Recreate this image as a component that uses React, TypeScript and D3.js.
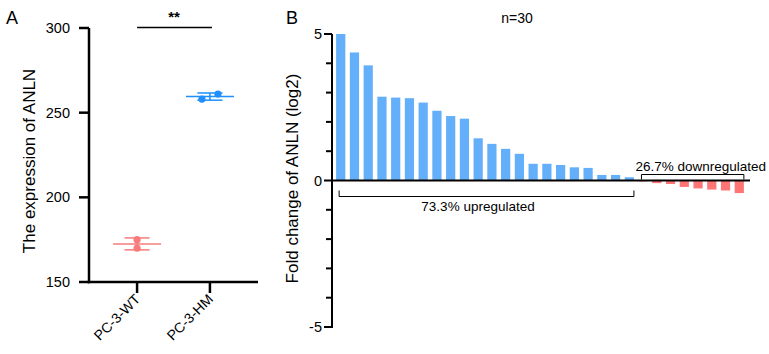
import * as d3 from "d3";

// Panel A: expression per cell line
const groups = ["PC-3-WT", "PC-3-HM"];
const wtValues = [175.0, 170.0];
const hmValues = [258.0, 261.0];
const aTicks = [150, 200, 250, 300];

// Panel B: fold change (log2) per sample, sorted
const foldChanges = [
  5.0, 4.37, 3.93, 2.86, 2.83, 2.81, 2.66, 2.38, 2.2, 2.11, 1.44, 1.25, 1.08, 0.91, 0.57,
  0.57, 0.53, 0.45, 0.43, 0.19, 0.19, 0.11, -0.03, -0.09, -0.12, -0.22, -0.27, -0.31, -0.34,
  -0.43,
];
const bMajorTicks = [-5, 0, 5];
const bMinorTicks = [-4, -3, -2, -1, 1, 2, 3, 4];

const font = "'Liberation Sans', Arial, sans-serif";
const blue = "#1e8ffc";
const pink = "#f77b7b";
const barBlue = "#63affa";
const barRed = "#ff7474";

function meanSd(v: number[]) {
  const m = d3.mean(v) ?? 0;
  const sd = d3.deviation(v) ?? 0;
  return { m, sd };
}

export default function App() {
  const width = 769;
  const height = 354;

  // ---- Panel A scales
  const yA = d3.scaleLinear().domain([150, 300]).range([282, 28]);
  const xA = d3.scalePoint<string>().domain(groups).range([89, 258]).padding(0.66);
  const series = [
    { name: groups[0], values: wtValues, color: pink },
    { name: groups[1], values: hmValues, color: blue },
  ];
  const r = 3.6;

  // ---- Panel B scales
  const yB = d3.scaleLinear().domain([-5, 5]).range([327, 34]);
  const xB = d3
    .scaleBand<number>()
    .domain(d3.range(foldChanges.length))
    .range([332, 748])
    .paddingInner(0.33)
    .paddingOuter(0.3);
  const bw = xB.bandwidth();
  const y0 = yB(0);
  const nUp = foldChanges.filter((d) => d > 0).length;
  const nDown = foldChanges.length - nUp;
  const upPct = ((nUp / foldChanges.length) * 100).toFixed(1);
  const downPct = ((nDown / foldChanges.length) * 100).toFixed(1);
  const upL = xB(0)!;
  const upR = xB(nUp - 1)! + bw;
  const dnL = xB(nUp)!;
  const dnR = xB(foldChanges.length - 1)! + bw;

  return (
    <svg
      width={width}
      height={height}
      style={{ position: "absolute", left: 0, top: 0, background: "#fff" }}
      fontFamily={font}
    >
      {/* ===== Panel A ===== */}
      <text x={6} y={24} fontSize={18}>A</text>
      <text
        transform={`translate(35,${(yA(150) + yA(300)) / 2 + 6}) rotate(-90)`}
        textAnchor="middle"
        fontSize={17}
      >
        The expression of ANLN
      </text>

      {/* axes */}
      <line x1={89} x2={89} y1={yA(300)} y2={yA(150) + 1.25} stroke="#000" strokeWidth={2.5} />
      <line x1={87.75} x2={258} y1={yA(150)} y2={yA(150)} stroke="#000" strokeWidth={2.5} />
      {aTicks.map((t) => (
        <g key={t}>
          <line x1={79} x2={89} y1={yA(t)} y2={yA(t)} stroke="#000" strokeWidth={2.5} />
          <text x={70} y={yA(t) + 5} textAnchor="end" fontSize={14.5}>
            {t}
          </text>
        </g>
      ))}
      {groups.map((g) => (
        <g key={g}>
          <line x1={xA(g)} x2={xA(g)} y1={yA(150)} y2={yA(150) + 11} stroke="#000" strokeWidth={2.5} />
          <text
            transform={`translate(${xA(g)! + 4},${yA(150) + 18}) rotate(-45)`}
            textAnchor="end"
            fontSize={14}
          >
            {g}
          </text>
        </g>
      ))}

      {/* mean, sd and points */}
      {series.map((s) => {
        const cx = xA(s.name)!;
        const { m, sd } = meanSd(s.values);
        const ys = s.values.map((v) => yA(v));
        const overlap = Math.abs(ys[0] - ys[1]) < 2 * r;
        return (
          <g key={s.name} stroke={s.color} fill={s.color}>
            <line x1={cx - 24} x2={cx + 24} y1={yA(m)} y2={yA(m)} strokeWidth={1.5} />
            <line x1={cx} x2={cx} y1={yA(m + sd)} y2={yA(m - sd)} strokeWidth={1.5} />
            <line x1={cx - 12.5} x2={cx + 12.5} y1={yA(m + sd)} y2={yA(m + sd)} strokeWidth={1.5} />
            <line x1={cx - 12.5} x2={cx + 12.5} y1={yA(m - sd)} y2={yA(m - sd)} strokeWidth={1.5} />
            {s.values.map((v, i) => (
              <circle
                key={i}
                cx={overlap ? cx + (i === 0 ? -8 : 8) : cx}
                cy={yA(v)}
                r={r}
                stroke="none"
              />
            ))}
          </g>
        );
      })}

      {/* significance */}
      <line x1={xA(groups[0])} x2={xA(groups[1])! + 2} y1={27.5} y2={27.5} stroke="#000" strokeWidth={1.5} />
      <text x={(xA(groups[0])! + xA(groups[1])!) / 2 + 0.5} y={22} textAnchor="middle" fontSize={15} fontWeight="bold">
        **
      </text>

      {/* ===== Panel B ===== */}
      <text x={286} y={24} fontSize={18}>B</text>
      <text x={517} y={23} textAnchor="middle" fontSize={14}>
        n={foldChanges.length}
      </text>
      <text
        transform={`translate(298,${(yB(-5) + yB(5)) / 2 - 2}) rotate(-90)`}
        textAnchor="middle"
        fontSize={17}
      >
        Fold change of ANLN (log2)
      </text>

      {foldChanges.map((d, i) => (
        <rect
          key={i}
          x={xB(i)}
          width={bw}
          y={d >= 0 ? yB(d) : y0}
          height={Math.abs(yB(d) - y0)}
          fill={d >= 0 ? barBlue : barRed}
        />
      ))}

      <line x1={332} x2={332} y1={yB(5)} y2={yB(-5) + 1} stroke="#000" strokeWidth={2} />
      <line x1={331} x2={750} y1={y0} y2={y0} stroke="#000" strokeWidth={2} />
      {bMajorTicks.map((t) => (
        <g key={t}>
          <line x1={324} x2={332} y1={yB(t)} y2={yB(t)} stroke="#000" strokeWidth={2} />
          <text x={322} y={yB(t) + 5} textAnchor="end" fontSize={14.5}>
            {t}
          </text>
        </g>
      ))}
      {bMinorTicks.map((t) => (
        <line key={t} x1={326} x2={332} y1={yB(t)} y2={yB(t)} stroke="#000" strokeWidth={2} />
      ))}

      {/* brackets */}
      <path
        d={`M${upL + 3},${y0 + 10} V${y0 + 16} H${upR} V${y0 + 10}`}
        fill="none"
        stroke="#000"
        strokeWidth={1}
      />
      <text x={(upL + upR) / 2 - 7} y={y0 + 30} textAnchor="middle" fontSize={13.5}>
        {upPct}% upregulated
      </text>
      <path
        d={`M${dnL + 3},${y0 - 1} V${y0 - 6} H${dnR} V${y0 - 1}`}
        fill="none"
        stroke="#000"
        strokeWidth={1}
      />
      <text x={dnL - 3} y={y0 - 10} textAnchor="start" fontSize={13.5}>
        {downPct}% downregulated
      </text>
    </svg>
  );
}
